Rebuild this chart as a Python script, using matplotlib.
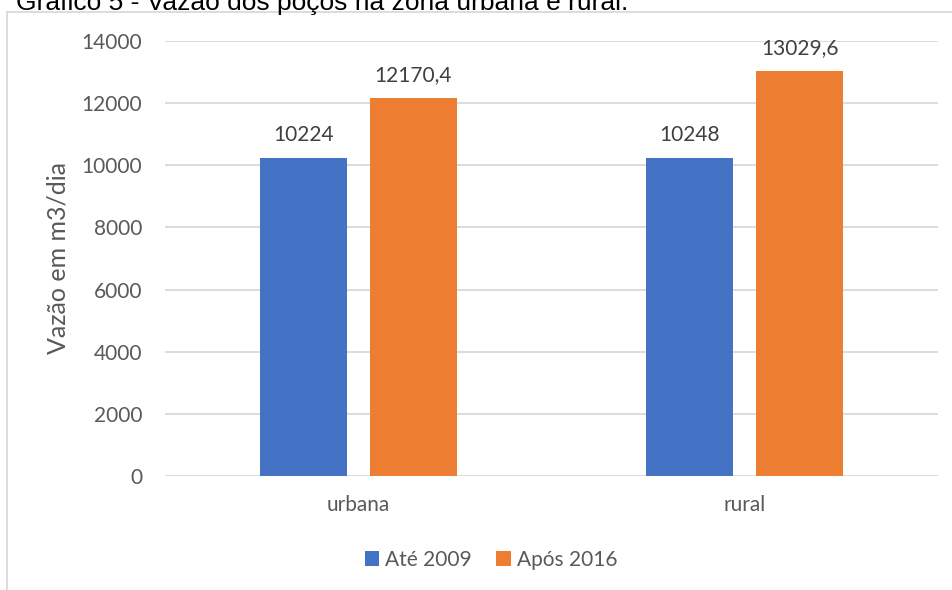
import matplotlib.pyplot as plt
from matplotlib.lines import Line2D

# Dados
categorias = ['urbana', 'rural']
series = ['Até 2009', 'Após 2016']
ate_2009 = [10224, 10248]
apos_2016 = [12170.4, 13029.6]
cores = ['#4472C4', '#ED7D31']
yticks = [0, 2000, 4000, 6000, 8000, 10000, 12000, 14000]

W, H = 952, 590
fig = plt.figure(figsize=(W / 100, H / 100), dpi=100)
plt.rcParams['font.family'] = ['Lato', 'DejaVu Sans']

ax = fig.add_axes([165 / W, 1 - 476 / H, 773 / W, 435 / H])

# Barras
x = list(range(len(categorias)))
largura = 0.225
desloc = 0.1425
b1 = ax.bar([i - desloc for i in x], ate_2009, largura, color=cores[0], label=series[0])
b2 = ax.bar([i + desloc for i in x], apos_2016, largura, color=cores[1], label=series[1])

# Rótulos de dados com vírgula decimal
fmt = lambda v: '{:g}'.format(v).replace('.', ',')
for b, vals in [(b1, ate_2009), (b2, apos_2016)]:
    ax.bar_label(b, labels=[fmt(v) for v in vals], padding=9.4,
                 fontsize=15, color='#404040')

ax.set_xlim(-0.5, len(categorias) - 0.5)
ax.set_ylim(0, 14000)
ax.set_yticks(yticks)
ax.set_yticklabels([str(t) for t in yticks])
ax.set_xticks(x)
ax.set_xticklabels(categorias)
ax.tick_params(axis='y', length=0, pad=16.5, labelsize=15, labelcolor='#595959')
ax.tick_params(axis='x', length=0, pad=14, labelsize=15, labelcolor='#595959')
ax.grid(axis='y', color='#D9D9D9', linewidth=1.3)
ax.set_axisbelow(True)
for s in ax.spines.values():
    s.set_visible(False)

# Rótulo do eixo Y
fig.text(58 / W, 1 - 258 / H, 'Vazão em m3/dia', rotation=90, ha='center',
         va='center', fontsize=18, color='#595959')

# Legenda
fig.legend(loc='center', bbox_to_anchor=(491 / W, 1 - 560 / H), ncol=2,
           frameon=False, fontsize=15, labelcolor='#595959',
           handlelength=0.7, handleheight=0.7, handletextpad=0.3,
           columnspacing=1.15, borderaxespad=0)

# Borda da área do gráfico
fig.add_artist(Line2D([7 / W, 1], [1 - 12 / H, 1 - 12 / H], color='#D9D9D9', linewidth=1.3))
fig.add_artist(Line2D([7 / W, 7 / W], [0, 1 - 12 / H], color='#D9D9D9', linewidth=1.3))

# Título (cortado no topo, como no original)
fig.text(16 / W, 1 - 10 / H, 'Gráfico 5 - Vazão dos poços na zona urbana e rural.',
         family=['Liberation Sans', 'DejaVu Sans'], fontsize=19, color='black',
         ha='left', va='baseline')

fig.savefig('out.png', dpi=100)
